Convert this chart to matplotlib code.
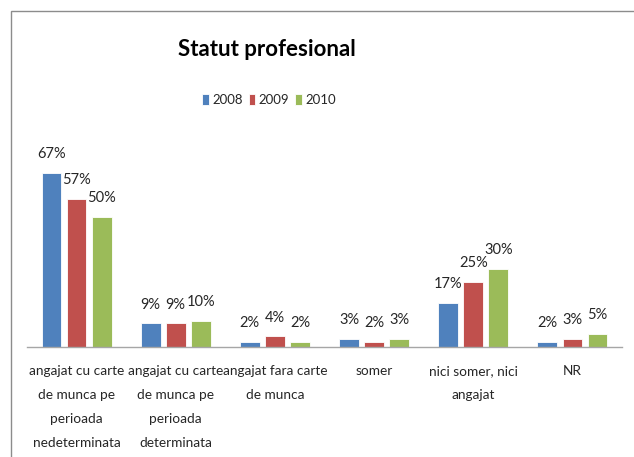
import matplotlib
matplotlib.use("Agg")
import matplotlib.pyplot as plt
from matplotlib.patches import Rectangle
import numpy as np

plt.rcParams['font.family'] = ['Lato', 'DejaVu Sans']

categories = ["angajat cu carte\nde munca pe\nperioada\nnedeterminata",
              "angajat cu carte\nde munca pe\nperioada\ndeterminata",
              "angajat fara carte\nde munca",
              "somer",
              "nici somer, nici\nangajat",
              "NR"]
years = ["2008", "2009", "2010"]
v2008 = [67, 9, 2, 3, 17, 2]
v2009 = [57, 9, 4, 2, 25, 3]
v2010 = [50, 10, 2, 3, 30, 5]
series = [v2008, v2009, v2010]
colors = ["#4F81BD", "#C0504D", "#9BBB59"]

W, H = 634, 457
fig = plt.figure(figsize=(W/100, H/100), dpi=100)
left, right = 27, 622
base = 346.7
ppu = 2.59
ymax = 80
top = base - ymax*ppu
ax = fig.add_axes([left/W, (H-base)/H, (right-left)/W, (base-top)/H])

x = np.arange(len(categories))
bw = 0.2
step = 0.2525
for i, (vals, c, yr) in enumerate(zip(series, colors, years)):
    pos = x + (i-1)*step
    ax.bar(pos, vals, width=bw, color=c, edgecolor='white', linewidth=0.6, label=yr, zorder=2)
    for p, v in zip(pos, vals):
        ax.annotate(f"{v}%", (p, v), xytext=(0, 13.5), textcoords='offset points',
                    ha='center', va='center', fontsize=10.5, color='#262626')

ax.set_xlim(-0.5, len(categories)-0.5)
ax.set_ylim(0, ymax)
ax.set_yticks([])
ax.set_xticks(x)
ax.set_xticklabels(categories, fontsize=9.8, color='#262626', linespacing=2.2, va='top')
ax.tick_params(axis='x', length=0, pad=13)
for s in ['top', 'right', 'left']:
    ax.spines[s].set_visible(False)
ax.spines['bottom'].set_color('#A6A6A6')
ax.spines['bottom'].set_linewidth(1.0)

fig.patches.append(Rectangle((11/W, -0.1), 1.2, (H-11)/H + 0.1, transform=fig.transFigure,
                             fill=False, edgecolor='#8C8C8C', linewidth=1.0, clip_on=False))

fig.text(267/W, 1-50/H, "Statut profesional", ha='center', va='center',
         fontsize=16, fontweight='bold', color='black')

leg = fig.legend(loc='center', bbox_to_anchor=(269/W, 1-100/H), ncol=3, frameon=False,
                 fontsize=9.5, handlelength=0.5, handleheight=0.85, handletextpad=0.25,
                 columnspacing=0.45)
for t in leg.get_texts():
    t.set_color('#262626')

fig.savefig("out.png", dpi=100)
